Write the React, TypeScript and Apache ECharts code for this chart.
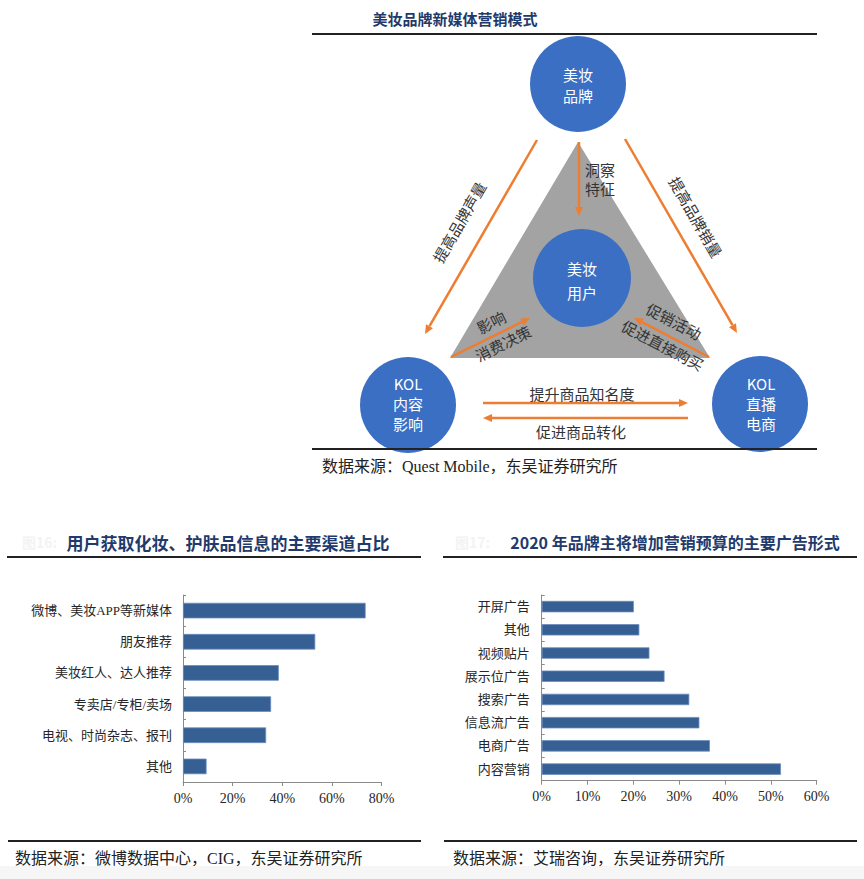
import React, { useEffect, useRef } from "react";
import * as echarts from "echarts";

const channelCats = ["微博、美妆APP等新媒体", "朋友推荐", "美妆红人、达人推荐", "专卖店/专柜/卖场", "电视、时尚杂志、报刊", "其他"];
const channelVals = [73.6, 53.3, 38.6, 35.5, 33.5, 9.5];
const channelTicks = [0, 20, 40, 60, 80];

const adCats = ["开屏广告", "其他", "视频贴片", "展示位广告", "搜索广告", "信息流广告", "电商广告", "内容营销"];
const adVals = [20.1, 21.3, 23.5, 26.8, 32.2, 34.4, 36.7, 52.2];
const adTicks = [0, 10, 20, 30, 40, 50, 60];

const TITLE_COLOR = "#1F3A6B";
const ORANGE = "#ED7D31";
const BLUE = "#3A6FC4";
const BAR = "#365F94";
const CJK = "'Noto Sans CJK SC', sans-serif";
const SERIF = "'Liberation Serif', 'Noto Sans CJK SC', serif";

function arrow(x1: number, y1: number, x2: number, y2: number): any[] {
  const ang = Math.atan2(y2 - y1, x2 - x1);
  const L = 9, W = 4;
  const bx = x2 - L * Math.cos(ang), by = y2 - L * Math.sin(ang);
  const px = -Math.sin(ang) * W, py = Math.cos(ang) * W;
  return [
    { type: "line", shape: { x1, y1, x2: bx, y2: by }, style: { stroke: ORANGE, lineWidth: 2.5 } },
    { type: "polygon", shape: { points: [[x2, y2], [bx + px, by + py], [bx - px, by - py]] }, style: { fill: ORANGE } },
  ];
}

function txt(text: string, x: number, y: number, opts: any = {}): any {
  return {
    type: "text",
    x, y,
    rotation: opts.rotation || 0,
    style: {
      text,
      fill: opts.fill || "#333",
      font: opts.font || `15px ${CJK}`,
      align: opts.align || "center",
      verticalAlign: "middle",
      lineHeight: opts.lineHeight || 20,
    },
  };
}

function hline(x1: number, x2: number, y: number): any {
  return { type: "line", shape: { x1, y1: y, x2, y2: y }, style: { stroke: "#222", lineWidth: 2 } };
}

function circle(cx: number, cy: number, r: number): any {
  return { type: "circle", shape: { cx, cy, r }, style: { fill: BLUE } };
}

export default function App() {
  const ref = useRef<HTMLDivElement>(null);
  useEffect(() => {
    if (!ref.current) return;
    const chart = echarts.init(ref.current, undefined, { renderer: "svg" });
    const graphics: any[] = [
      { type: "rect", shape: { x: 0, y: 866, width: 864, height: 13 }, style: { fill: "#f6f6f6" }, z: -1 },
      // top title
      txt("美妆品牌新媒体营销模式", 455, 18, { font: `bold 15px ${CJK}`, fill: TITLE_COLOR }),
      hline(312, 817, 34),
      // triangle
      { type: "polygon", shape: { points: [[578, 142], [450, 358], [710, 358]] }, style: { fill: "#A3A3A3" } },
      circle(578, 84, 48),
      circle(582, 278, 49),
      circle(408, 405, 48),
      circle(760, 404, 48),
      txt("美妆\n品牌", 578, 85, { fill: "#fff", lineHeight: 21 }),
      txt("美妆\n用户", 582, 280, { fill: "#fff", lineHeight: 24 }),
      txt("KOL\n内容\n影响", 408, 403, { fill: "#fff", lineHeight: 20 }),
      txt("KOL\n直播\n电商", 761, 403, { fill: "#fff", lineHeight: 20 }),
      ...arrow(537, 140, 425, 334),
      ...arrow(625, 139, 737, 333),
      ...arrow(579, 142, 579, 216),
      ...arrow(451, 357, 530, 318),
      ...arrow(709, 357, 634, 318),
      ...arrow(483, 403, 688, 403),
      ...arrow(688, 418, 483, 418),
      txt("提高品牌声量", 459, 222, { rotation: Math.PI / 3 }),
      txt("提高品牌销量", 696, 217, { rotation: -Math.PI / 3 }),
      txt("洞察", 600, 169, { lineHeight: 16 }),
      txt("特征", 600, 188, { lineHeight: 16 }),
      txt("影响", 491, 322, { rotation: 0.46 }),
      txt("消费决策", 503, 343, { rotation: 0.46 }),
      txt("促销活动", 674, 321, { rotation: -0.48 }),
      txt("促进直接购买", 663, 345, { rotation: -0.48 }),
      txt("提升商品知名度", 582, 393),
      txt("促进商品转化", 581, 431),
      hline(312, 817, 449),
      txt("数据来源：Quest Mobile，东吴证券研究所", 322, 466, { align: "left", font: `16px ${SERIF}`, fill: "#222" }),
      // bottom left
      txt("图16:", 22, 542, { align: "left", fill: "#f3f3f3", font: `bold 14px ${CJK}` }),
      txt("用户获取化妆、护肤品信息的主要渠道占比", 228, 542, { font: `bold 17px ${CJK}`, fill: TITLE_COLOR }),
      hline(7, 421, 557),
      hline(8, 421, 841),
      txt("数据来源：微博数据中心，CIG，东吴证券研究所", 15, 858, { align: "left", font: `16px ${SERIF}`, fill: "#222" }),
      // bottom right
      txt("图17:", 455, 542, { align: "left", fill: "#f3f3f3", font: `bold 14px ${CJK}` }),
      txt("2020 年品牌主将增加营销预算的主要广告形式", 675, 542, { font: `bold 16px ${CJK}`, fill: TITLE_COLOR }),
      hline(443, 857, 557),
      hline(444, 857, 841),
      txt("数据来源：艾瑞咨询，东吴证券研究所", 453, 858, { align: "left", font: `16px ${SERIF}`, fill: "#222" }),
    ];

    const catAxis = (gi: number, data: string[], margin: number) => ({
      type: "category",
      gridIndex: gi,
      data,
      inverse: true,
      axisLine: { show: true, lineStyle: { color: "#8a8a8a", width: 1 } },
      axisTick: { show: true, inside: true, length: 3, lineStyle: { color: "#8a8a8a" } },
      axisLabel: { color: "#262626", fontSize: 13, fontFamily: SERIF, margin },
    });
    const valAxis = (gi: number, max: number, interval: number) => ({
      type: "value",
      gridIndex: gi,
      min: 0,
      max,
      interval,
      splitLine: { show: false },
      axisLine: { show: true, lineStyle: { color: "#8a8a8a", width: 1 } },
      axisTick: { show: true, length: 4, lineStyle: { color: "#8a8a8a" } },
      axisLabel: { color: "#262626", fontSize: 14, fontFamily: SERIF, margin: 9, formatter: "{value}%" },
    });

    chart.setOption({
      animation: false,
      backgroundColor: "#fff",
      grid: [
        { left: 183, right: 864 - 381.5, top: 595, bottom: 879 - 782 },
        { left: 541.7, right: 864 - 816.7, top: 595, bottom: 879 - 780.7 },
      ],
      xAxis: [valAxis(0, channelTicks[channelTicks.length - 1], channelTicks[1] - channelTicks[0]), valAxis(1, adTicks[adTicks.length - 1], adTicks[1] - adTicks[0])],
      yAxis: [catAxis(0, channelCats, 11), catAxis(1, adCats, 12)],
      series: [
        {
          type: "bar", xAxisIndex: 0, yAxisIndex: 0, data: channelVals, barWidth: "50%",
          itemStyle: { color: BAR, borderColor: "#6a8cbd", borderWidth: 0.8 },
        },
        {
          type: "bar", xAxisIndex: 1, yAxisIndex: 1, data: adVals, barWidth: "49%",
          itemStyle: { color: BAR, borderColor: "#6a8cbd", borderWidth: 0.8 },
        },
      ],
      graphic: graphics,
    });
    return () => chart.dispose();
  }, []);
  return <div ref={ref} style={{ position: "fixed", left: 0, top: 0, width: 864, height: 879 }} />;
}
